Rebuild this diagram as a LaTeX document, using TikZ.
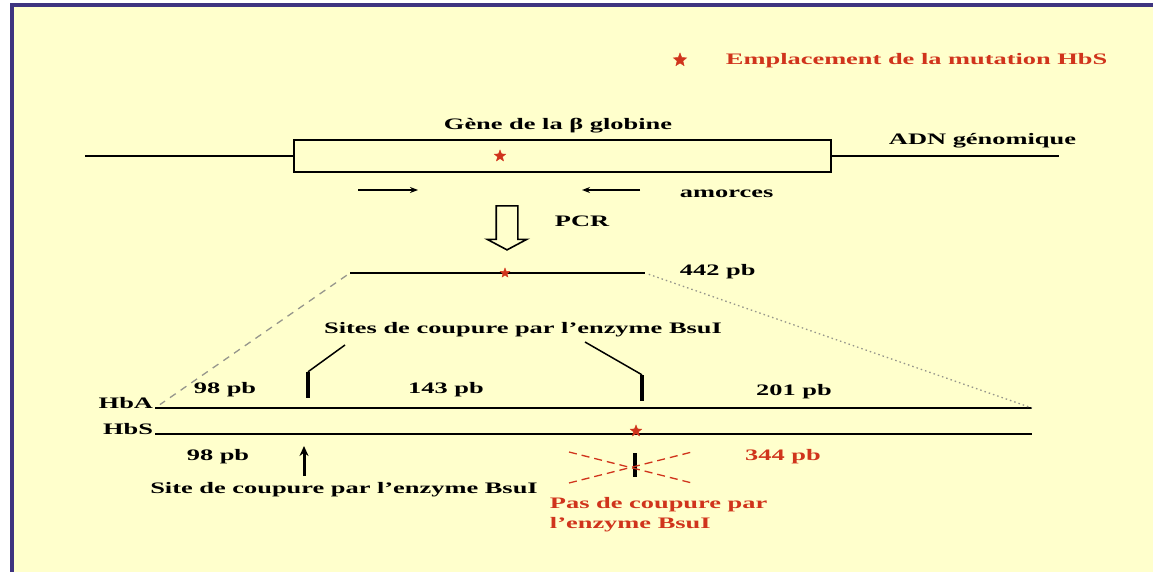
\documentclass[tikz,border=0pt]{standalone}
\usepackage{fontspec}
\setmainfont{Liberation Serif}
\usetikzlibrary{shapes.geometric,shapes.arrows,arrows.meta,positioning}
\definecolor{paper}{RGB}{255,255,204}
\definecolor{framebl}{RGB}{62,52,128}
\definecolor{hbsred}{RGB}{208,52,28}
\definecolor{guidegray}{RGB}{150,150,140}

\begin{document}
\begin{tikzpicture}[x=1pt, y=-1pt,
  lbl/.style={font=\fontsize{16}{20}\selectfont\bfseries, xscale=1.65, inner sep=1pt},
  redlbl/.style={lbl, text=hbsred},
  mut/.style={star, star points=5, star point ratio=2.3, draw=hbsred, fill=hbsred,
              inner sep=0pt, minimum size=12pt},
  strand/.style={line width=2.2pt},
  guide/.style={guidegray, line width=1.3pt},
  cutbar/.style={fill=black, minimum width=3.6pt, minimum height=26pt, inner sep=0pt},
  ptr/.style={line width=1.5pt},
  primer/.style={-{Stealth[length=8pt,width=6pt]}, line width=1.6pt},
  uparr/.style={-{Stealth[length=10pt,width=9pt]}, line width=3pt},
  pcrarrow/.style={single arrow, draw, line width=1.6pt, fill=paper, shape border rotate=270,
                   minimum height=44pt, inner sep=10pt,
                   single arrow head extend=9pt, single arrow tip angle=124}
]
  \useasboundingbox (0,0) rectangle (1153,572);
  % fond et cadre
  \fill[paper] (12,5) rectangle (1153,572);
  \draw[framebl, line width=3.5pt] (12,572) -- (12,5) -- (1153,5);

  % legende
  \node[mut, minimum size=14pt] (keystar) at (680,60) {};
  \node[redlbl, anchor=base west] (keytxt) at (724,65) {Emplacement de la mutation HbS};

  % ADN genomique
  \node[draw, strand, minimum width=537pt, minimum height=32pt, inner sep=0pt] (gene) at (562.5,156) {};
  \node[mut] (mutgene) at (500,156) {};
  \node[lbl, anchor=base] (genetxt) at (558,130) {Gène de la β globine};
  \coordinate (dnaL) at (85,156);
  \coordinate (dnaR) at (1059,156);
  \draw[strand] (dnaL) -- (gene.west);
  \draw[strand] (gene.east) -- (dnaR);
  \node[lbl, anchor=base west] (adn) at (887,145) {ADN génomique};

  % amorces
  \coordinate (fwdA) at (358,190);
  \coordinate (fwdB) at (418,190);
  \coordinate (revA) at (640,190);
  \coordinate (revB) at (582,190);
  \draw[primer] (fwdA) -- (fwdB);
  \draw[primer] (revA) -- (revB);
  \node[lbl, anchor=base west] (amorces) at (678,197) {amorces};

  % PCR
  \node[pcrarrow] (pcr) at (507,225) {};
  \node[lbl, anchor=base west] (pcrtxt) at (553,226) {PCR};

  % produit de 442 pb
  \coordinate (ampL) at (350,273);
  \coordinate (ampR) at (645,273);
  \draw[strand] (ampL) -- (ampR);
  \node[mut, minimum size=10pt] (mutamp) at (505,273) {};
  \node[lbl, anchor=base west] (amptxt) at (678,275) {442 pb};

  % HbA et HbS
  \coordinate (hbaL) at (155,408);
  \coordinate (hbaR) at (1032,408);
  \coordinate (hbsL) at (155,434);
  \coordinate (hbsR) at (1032,434);
  \draw[strand] (hbaL) -- (hbaR);
  \draw[strand] (hbsL) -- (hbsR);
  \node[lbl, anchor=base east] (hba) at (hbaL) {HbA};
  \node[lbl, anchor=base east] (hbs) at (hbsL) {HbS};
  \draw[guide, dash pattern=on 7pt off 6pt, shorten <=4pt, shorten >=6pt] (ampL) -- (hbaL);
  \draw[guide, dash pattern=on 1.5pt off 3pt, shorten <=4pt] (ampR) -- (hbaR);

  % sites de coupure
  \node[lbl, anchor=base] (sites) at (523,333) {Sites de coupure par l'enzyme BsuI};
  \node[cutbar] (cutA) at (308,385) {};
  \node[cutbar] (cutB) at (642,388) {};
  \coordinate (ptrA) at (345,345);
  \coordinate (ptrB) at (585,342);
  \draw[ptr] (ptrA) -- (cutA.north);
  \draw[ptr] (ptrB) -- (cutB.north);
  \node[lbl, anchor=base] (fa1) at (225,393) {98 pb};
  \node[lbl, anchor=base] (fa2) at (446,393) {143 pb};
  \node[lbl, anchor=base] (fa3) at (794,395) {201 pb};

  % fragments HbS
  \node[mut, minimum size=12pt] (muthbs) at (636,431) {};
  \node[lbl, anchor=base] (fs1) at (218,460) {98 pb};
  \node[redlbl, anchor=base] (fs2) at (783,460) {344 pb};
  \node[lbl, anchor=base] (sitebas) at (344,493) {Site de coupure par l'enzyme BsuI};
  \coordinate (upB) at (304,476);
  \coordinate (upT) at (304,446);
  \draw[uparr] (upB) -- (upT);

  % pas de coupure
  \node[cutbar, minimum height=24pt] (nocut) at (635,465) {};
  \coordinate (xa) at (569,452);
  \coordinate (xb) at (692,483);
  \coordinate (xc) at (569,483);
  \coordinate (xd) at (692,452);
  \draw[hbsred, dash pattern=on 8pt off 5pt, line width=1.3pt] (xa) -- (xb);
  \draw[hbsred, dash pattern=on 8pt off 5pt, line width=1.3pt] (xc) -- (xd);
  \node[redlbl, anchor=north west, align=left] (nocuttxt) at (548,496) {Pas de coupure par\\l'enzyme BsuI};
\end{tikzpicture}
\end{document}
